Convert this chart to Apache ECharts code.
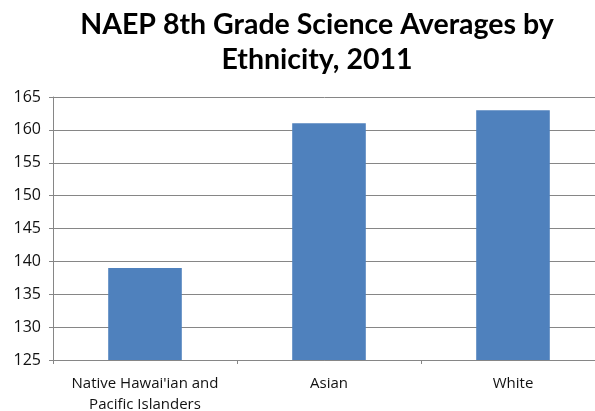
<!DOCTYPE html>
<html><head><meta charset="utf-8">
<script src="https://cdn.jsdelivr.net/npm/echarts@6/dist/echarts.min.js"></script>
<style>html,body{margin:0;padding:0;background:#fff}#c{width:595px;height:411px}</style>
</head><body><div id="c"></div>
<script>
const categories = ["Native Hawai'ian and\nPacific Islanders", "Asian", "White"];
const scores = [139, 161, 163];
const yTicks = { min: 125, max: 165, interval: 5 };

const chart = echarts.init(document.getElementById('c'), null, { renderer: 'canvas' });
chart.setOption({
  animation: false,
  backgroundColor: '#fff',
  title: {
    text: 'NAEP 8th Grade Science Averages by\nEthnicity, 2011',
    left: 312, top: 2, textAlign: 'center',
    textStyle: { fontFamily: 'Lato', fontWeight: 'bold', fontSize: 28.5, color: '#000', lineHeight: 35 }
  },
  grid: { left: 53, width: 552, top: 97, height: 263, containLabel: false, outerBoundsMode: 'none' },
  xAxis: {
    type: 'category', data: categories,
    axisLine: { lineStyle: { color: '#868686', width: 1 } },
    axisTick: { show: true, length: 4, lineStyle: { color: '#868686' } },
    axisLabel: { interval: 0, fontFamily: 'Open Sans', fontSize: 15, color: '#111', margin: 13, lineHeight: 21 }
  },
  yAxis: {
    type: 'value', min: yTicks.min, max: yTicks.max, interval: yTicks.interval,
    axisLine: { show: true, lineStyle: { color: '#868686', width: 1 } },
    axisTick: { show: true, length: 4, lineStyle: { color: '#868686' } },
    axisLabel: { fontFamily: 'Open Sans', fontSize: 16, color: '#111', margin: 12 },
    splitLine: { lineStyle: { color: '#868686', width: 1 } }
  },
  series: [{
    type: 'bar', data: scores, barCategoryGap: '60%',
    itemStyle: { color: '#4f81bd' }
  }]
});
</script></body></html>
